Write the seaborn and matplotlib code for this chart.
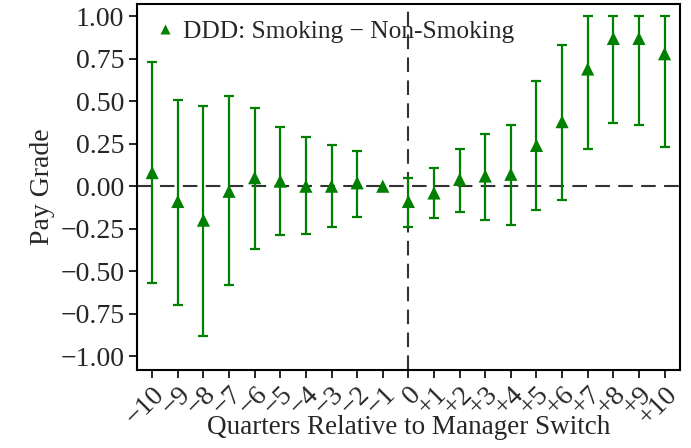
import numpy as np
import pandas as pd
import matplotlib
matplotlib.use("Agg")
import matplotlib.pyplot as plt
import seaborn as sns

# event-study coefficients
quarters = list(range(-10, 11))
tick_labels = ["\u221210", "\u22129", "\u22128", "\u22127", "\u22126", "\u22125", "\u22124",
               "\u22123", "\u22122", "\u22121", "0", "+1", "+2", "+3", "+4", "+5", "+6",
               "+7", "+8", "+9", "+10"]
coef = [0.08, -0.09, -0.20, -0.03, 0.05, 0.03, 0.00, 0.00, 0.02, 0.00,
        -0.09, -0.04, 0.04, 0.06, 0.07, 0.24, 0.38, 0.69, 0.87, 0.87, 0.78]
ci_low = [-0.57, -0.70, -0.88, -0.58, -0.37, -0.29, -0.28, -0.24, -0.18, 0.00,
          -0.24, -0.19, -0.15, -0.20, -0.23, -0.14, -0.08, 0.22, 0.37, 0.36, 0.23]
ci_high = [0.73, 0.51, 0.47, 0.53, 0.46, 0.35, 0.29, 0.24, 0.21, 0.00,
           0.05, 0.11, 0.22, 0.31, 0.36, 0.62, 0.83, 1.00, 1.00, 1.00, 1.00]

df = pd.DataFrame({"quarter": quarters, "coef": coef, "lo": ci_low, "hi": ci_high})
df["series"] = "DDD: Smoking \u2212 Non-Smoking"

sns.set_style("ticks")
plt.rcParams["font.family"] = ["Liberation Serif", "DejaVu Serif"]

fig, ax = plt.subplots(figsize=(6.91, 4.48), dpi=100)

# confidence intervals (skip the omitted reference quarter)
ci = df[df["hi"] > df["lo"]]
ax.errorbar(ci["quarter"], ci["coef"],
            yerr=[ci["coef"] - ci["lo"], ci["hi"] - ci["coef"]],
            fmt="none", ecolor="green", elinewidth=1.6, capsize=3.5, capthick=1.6, zorder=2)

ax.axhline(0, color="#333333", linestyle=(0, (7, 4)), linewidth=1.5, zorder=1)
ax.axvline(0, color="#333333", linestyle=(0, (7, 4)), linewidth=1.5, zorder=1)

sns.scatterplot(data=df, x="quarter", y="coef", hue="series", palette=["green"],
                marker="^", s=90, edgecolor="none", ax=ax, zorder=3)

ax.set_xlim(-10.6, 10.6)
ax.set_ylim(-1.08, 1.07)
ax.set_xticks(quarters)
ax.set_xticklabels(tick_labels, rotation=45, ha="right", rotation_mode="anchor")
ax.set_yticks(np.arange(-1.0, 1.01, 0.25))
ax.set_yticklabels([f"{v:.2f}".replace("-", "\u2212") for v in np.arange(-1.0, 1.01, 0.25)])
ax.tick_params(labelsize=20, length=6, width=1.2, direction="out", color="black", pad=3)
ax.set_xlabel("Quarters Relative to Manager Switch", fontsize=19.5)
ax.xaxis.set_label_coords(0.5, -0.125)
ax.set_ylabel("Pay Grade", fontsize=20, labelpad=4)

for sp in ax.spines.values():
    sp.set_visible(True)
    sp.set_color("black")
    sp.set_linewidth(1.5)

leg = ax.legend(loc="upper left", frameon=False, fontsize=18.3, handletextpad=0.2,
                borderaxespad=0.2, handlelength=1.0, markerscale=0.75)

fig.subplots_adjust(left=0.198, right=0.984, top=0.99, bottom=0.175)
fig.savefig("out.png", dpi=100)
